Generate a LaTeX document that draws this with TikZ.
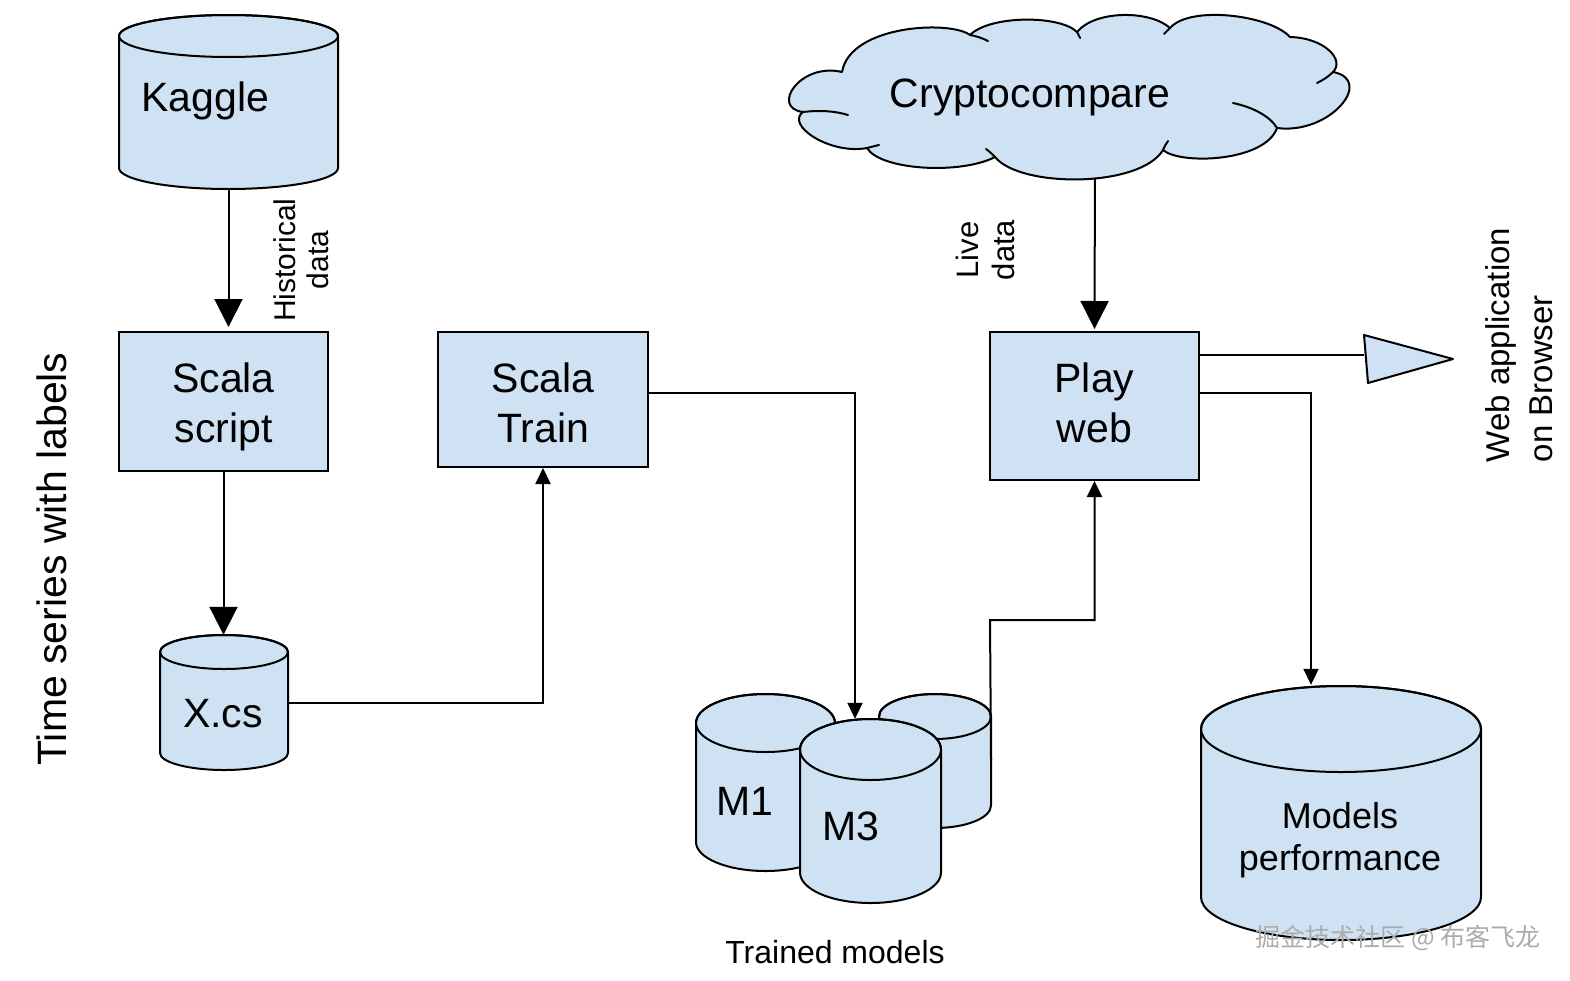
\documentclass[tikz,border=0pt]{standalone}
\usepackage{fontspec}
\setmainfont{Liberation Sans}
\newfontfamily\cjkfont{Noto Sans CJK SC}
\usetikzlibrary{arrows.meta}
\definecolor{lb}{HTML}{CFE2F3}
\tikzset{
  boxst/.style={draw=black, line width=2pt, fill=lb, inner sep=0pt},
  cylst/.style={draw=black, line width=2pt, fill=lb, line join=round},
  big/.style={font=\fontsize{41}{50}\selectfont, align=center},
  lbl/.style={font=\fontsize{30}{33}\selectfont, align=center, rotate=90},
  conn/.style={draw=black, line width=2pt},
  bigarr/.style={conn, -{Triangle[width=28pt,length=28pt]}},
  smallarr/.style={conn, -{Triangle[width=15pt,length=16pt]}},
  ghost/.style={inner sep=0pt, draw=none},
  curl/.style={draw=black, line width=2pt, line cap=round},
}
% cx, rx, y of top centre, y of bottom centre, ry
\newcommand\drawcyl[5]{%
  \filldraw[cylst] (#1-#2,#3) -- (#1-#2,#4) arc[start angle=180,end angle=0,x radius=#2,y radius=#5]
    -- (#1+#2,#3) arc[start angle=0,end angle=-180,x radius=#2,y radius=#5] -- cycle;
  \draw[cylst, fill=none] (#1,#3) ellipse[x radius=#2, y radius=#5];
}
\begin{document}
\begin{tikzpicture}[x=1pt,y=-1pt]
\fill[white] (0,0) rectangle (1570,980);
\useasboundingbox (0,0) rectangle (1570,980);

\coordinate (cb) at (1095,150);
\coordinate (t3e) at (991,760);

% ---------- Kaggle ----------
\drawcyl{228.5}{109.5}{36}{168}{21}
\node[ghost, minimum width=219pt, minimum height=174pt] (kaggle) at (228.5,102) {};
\node[big, anchor=west] (kaggletxt) at (138,101) {Kaggle};

% ---------- boxes ----------
\node[boxst, minimum width=209pt, minimum height=139pt] (script) at (223.5,401.5) {};
\node[big] (scripttxt) at ([yshift=-5pt]script.center) {Scala\\script};
\node[boxst, minimum width=210pt, minimum height=135pt] (train) at (543,399.5) {};
\node[big] (traintxt) at ([yshift=-3pt]train.center) {Scala\\Train};
\node[boxst, minimum width=209pt, minimum height=148pt] (play) at (1094.5,406) {};
\node[big] (playtxt) at ([yshift=3pt]play.center) {Play\\web};

% ---------- X.cs ----------
\drawcyl{224}{64}{652}{753}{17}
\node[ghost, minimum width=128pt, minimum height=135pt] (xcs) at (224,702.5) {};
\node[big] (xcstxt) at (223,714) {X.cs};

% ---------- models ----------
\drawcyl{935}{56}{716.5}{805.5}{22.5}
\node[ghost, minimum width=112pt, minimum height=134pt] (m2) at (935,761) {};
\drawcyl{765.5}{69.5}{723}{842}{29}
\node[ghost, minimum width=139pt, minimum height=177pt] (m1) at (765.5,782.5) {};
\node[big] (m1txt) at (745,801) {M1};
\drawcyl{870.5}{70.5}{749.5}{872.5}{30.5}
\node[ghost, minimum width=141pt, minimum height=184pt] (m3) at (870.5,811) {};
\node[big] (m3txt) at (851,826) {M3};
\node[font=\fontsize{32}{38}\selectfont] (trained) at (835,952) {Trained models};

% ---------- Models performance ----------
\drawcyl{1341}{140}{729}{897}{43}
\node[ghost, minimum width=280pt, minimum height=255pt] (mp) at (1341,812.5) {};
\node[font=\fontsize{36}{42}\selectfont, align=center] (mptxt) at (1340,840) {Models\\performance};

% ---------- cloud ----------
\draw[bigarr, shorten >=2pt] (cb) -- (play.north);
\filldraw[cylst] (842,72)
  .. controls (800,62) and (770,108) .. (803,112)
  .. controls (785,125) and (830,155) .. (867,148)
  .. controls (880,170) and (960,175) .. (995,157)
  .. controls (1020,188) and (1140,188) .. (1163,150)
  .. controls (1180,165) and (1265,162) .. (1277,128)
  .. controls (1330,135) and (1375,80) .. (1333,72)
  .. controls (1345,60) and (1325,38) .. (1290,37)
  .. controls (1270,15) and (1190,5) .. (1170,28)
  .. controls (1150,10) and (1095,10) .. (1077,32)
  .. controls (1060,15) and (990,15) .. (970,35)
  .. controls (950,20) and (850,25) .. (842,72) -- cycle;
\draw[curl] (803,112) .. controls (820,110) and (835,111) .. (848,115);
\draw[curl] (867,148) .. controls (871,147) and (875,146) .. (879,145);
\draw[curl] (995,157) .. controls (992,154) and (989,151) .. (986,149);
\draw[curl] (1163,150) .. controls (1164,147) and (1166,144) .. (1168,141);
\draw[curl] (1233,103) .. controls (1252,107) and (1270,116) .. (1277,128);
\draw[curl] (1333,72) .. controls (1328,77) and (1323,80) .. (1317,83);
\draw[curl] (1170,28) .. controls (1168,30) and (1166,32) .. (1164,34);
\draw[curl] (1077,32) .. controls (1078,34) and (1079,36) .. (1080,38);
\draw[curl] (970,35) .. controls (976,36) and (982,38) .. (988,41);
\node[ghost, minimum width=568pt, minimum height=165pt] (cloud) at (1070,98) {};
\node[big] (cloudtxt) at (1030,97) {Cryptocompare};

% ---------- triangle ----------
\filldraw[cylst] (1364,335) -- (1453,359) -- (1368,383) -- cycle;
\coordinate (tri) at (1364,355);

% ---------- connectors ----------
\draw[bigarr, shorten >=4pt] (kaggle.south) -- (kaggle.south |- script.north);
\draw[bigarr] (script.south) -- (script.south |- xcs.north);
\draw[smallarr] (xcs.east) -| (train.south);
\coordinate (j2) at (855,393);
\draw[smallarr] (train.east |- j2) -- (j2) -- (j2 |- m3.north);
\coordinate (j1) at (990,620);
\draw[smallarr] (t3e) -- (j1) -| (play.south);
\draw[conn] (play.east |- tri) -- (tri);
\coordinate (r2) at (1311,393);
\draw[smallarr] (play.east |- r2) -- (r2) -- (r2 |- mp.north);

% ---------- labels ----------
\node[lbl] (histlbl) at (301,260) {Historical\\data};
\node[lbl, font=\fontsize{31}{36}\selectfont] (livelbl) at (985,250) {Live\\data};
\node[lbl, align=left, font=\fontsize{33}{43}\selectfont] (weblbl) at (1519,345) {Web application\\on Browser};
\node[font=\fontsize{41}{50}\selectfont, rotate=90] (tslbl) at (52,559) {Time series with labels};

% ---------- watermark ----------
\node[font=\cjkfont\fontsize{25}{28}\selectfont, text=gray!65] (wm) at (1398,938) {掘金技术社区 @ 布客飞龙};
\end{tikzpicture}
\end{document}
